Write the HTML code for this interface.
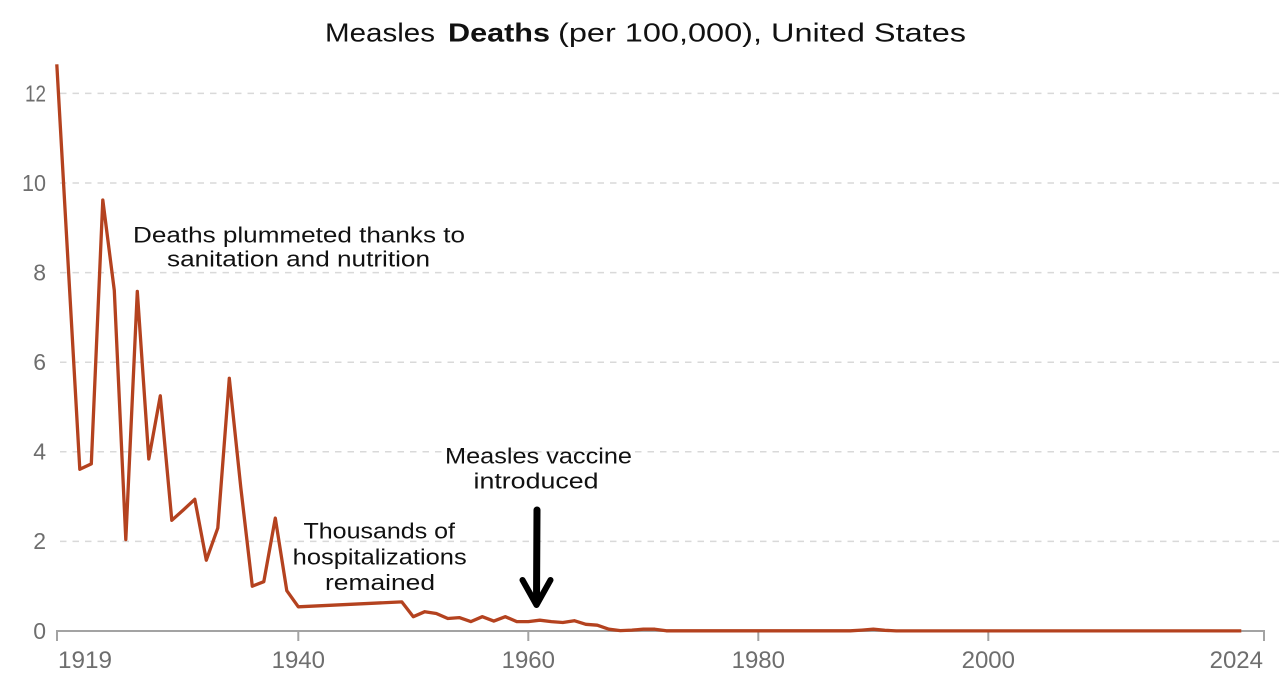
<!DOCTYPE html>
<html>
<head>
<meta charset="utf-8">
<style>
  html, body { margin: 0; padding: 0; background: #ffffff; }
  svg { display: block; }
  text { font-family: "Liberation Sans", "DejaVu Sans", sans-serif; }
</style>
</head>
<body>
<svg width="1286" height="696" viewBox="0 0 1286 696" xmlns="http://www.w3.org/2000/svg">
  <rect x="0" y="0" width="1286" height="696" fill="#ffffff"/>

  <!-- Title -->
  <text x="325" y="41.5" font-size="26" fill="#111" textLength="110" lengthAdjust="spacingAndGlyphs">Measles</text>
  <text x="448" y="41.5" font-size="26" font-weight="bold" fill="#111" textLength="102" lengthAdjust="spacingAndGlyphs">Deaths</text>
  <text x="558" y="41.5" font-size="26" fill="#111" textLength="408" lengthAdjust="spacingAndGlyphs">(per 100,000), United States</text>

  <!-- Gridlines -->
  <g stroke="#d9d9d9" stroke-width="1.5" stroke-dasharray="6.5 6">
    <line x1="60" y1="93.4" x2="1282" y2="93.4"/>
    <line x1="60" y1="183.0" x2="1282" y2="183.0"/>
    <line x1="60" y1="272.6" x2="1282" y2="272.6"/>
    <line x1="60" y1="362.2" x2="1282" y2="362.2"/>
    <line x1="60" y1="451.8" x2="1282" y2="451.8"/>
    <line x1="60" y1="541.4" x2="1282" y2="541.4"/>
  </g>

  <!-- Y labels -->
  <g font-size="23" fill="#6e6e6e" text-anchor="end">
    <text x="46" y="101.5" textLength="21" lengthAdjust="spacingAndGlyphs">12</text>
    <text x="46" y="191" textLength="24" lengthAdjust="spacingAndGlyphs">10</text>
    <text x="46" y="280.5">8</text>
    <text x="46" y="370">6</text>
    <text x="46" y="459.5">4</text>
    <text x="46" y="549">2</text>
    <text x="46" y="639">0</text>
  </g>

  <!-- X axis -->
  <g stroke="#a3a3a3" stroke-width="2" fill="none">
    <line x1="56" y1="631" x2="1265" y2="631"/>
    <line x1="57" y1="630" x2="57" y2="641"/>
    <line x1="298.3" y1="631" x2="298.3" y2="641"/>
    <line x1="528.3" y1="631" x2="528.3" y2="641"/>
    <line x1="758.3" y1="631" x2="758.3" y2="641"/>
    <line x1="988.3" y1="631" x2="988.3" y2="641"/>
    <line x1="1264" y1="630" x2="1264" y2="641"/>
  </g>

  <!-- X labels -->
  <g font-size="24" fill="#6e6e6e">
    <text x="58" y="668" textLength="54" lengthAdjust="spacingAndGlyphs">1919</text>
    <text x="298.3" y="668" text-anchor="middle">1940</text>
    <text x="528.3" y="668" text-anchor="middle">1960</text>
    <text x="758.3" y="668" text-anchor="middle">1980</text>
    <text x="988.3" y="668" text-anchor="middle">2000</text>
    <text x="1263" y="668" text-anchor="end">2024</text>
  </g>

  <!-- Data line -->
  <polyline fill="none" stroke="#b4421f" stroke-width="3.3" stroke-linejoin="round" stroke-linecap="butt"
    points="56.8,64.3 79.8,469.3 91.3,463.9 102.8,200.0 114.3,290.5 125.8,539.6 137.3,291.4 148.8,459.0 160.3,395.8 171.8,520.3 183.3,510.0 194.8,499.3 206.3,560.2 217.8,528.0 229.3,378.3 240.8,487.6 252.3,586.2 263.8,581.7 275.3,518.1 286.8,590.7 298.3,606.8 401.8,601.9 413.3,616.7 424.8,611.7 436.3,613.5 447.8,618.5 459.3,617.6 470.8,621.6 482.3,616.7 493.8,621.1 505.3,616.7 516.8,621.6 528.3,621.6 539.8,620.2 551.3,621.6 562.8,622.5 574.3,620.7 585.8,624.3 597.3,625.2 608.8,629.2 620.3,630.6 631.8,630.1 643.3,629.2 654.8,629.2 666.3,630.8 850.3,630.8 861.8,630.1 873.3,629.2 884.8,630.3 896.3,630.9 1241.3,630.9"/>

  <!-- Annotations -->
  <g font-size="22" fill="#111">
    <text x="133" y="242.5" textLength="332" lengthAdjust="spacingAndGlyphs">Deaths plummeted thanks to</text>
    <text x="167" y="266.5" textLength="263" lengthAdjust="spacingAndGlyphs">sanitation and nutrition</text>

    <text x="303.5" y="538.5" textLength="151.5" lengthAdjust="spacingAndGlyphs">Thousands of</text>
    <text x="292.7" y="564.5" textLength="174" lengthAdjust="spacingAndGlyphs">hospitalizations</text>
    <text x="325" y="590" textLength="110" lengthAdjust="spacingAndGlyphs">remained</text>

    <text x="445" y="463.5" textLength="187" lengthAdjust="spacingAndGlyphs">Measles vaccine</text>
    <text x="473.5" y="488.5" textLength="125" lengthAdjust="spacingAndGlyphs">introduced</text>
  </g>

  <!-- Arrow -->
  <g stroke="#000" fill="none" stroke-linecap="round" stroke-linejoin="round">
    <line x1="537" y1="510" x2="536.5" y2="602" stroke-width="7"/>
    <polyline points="522.5,580 536.5,605 550.5,580" stroke-width="6"/>
  </g>
</svg>
</body>
</html>
